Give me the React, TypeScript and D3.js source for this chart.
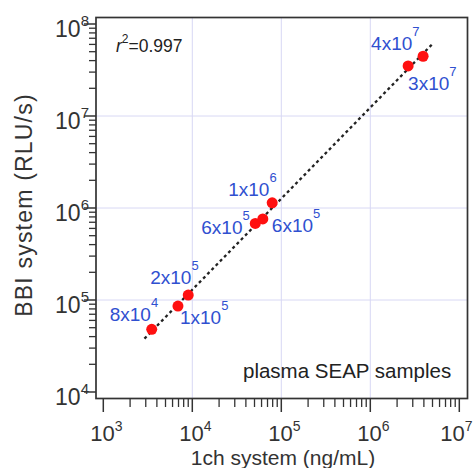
import React from 'react';
import * as d3 from 'd3';

// ---- data ----
const xValues = [3500, 6900, 9000, 51000, 62000, 79000, 2660000, 3920000]; // 1ch system (ng/mL)
const yValues = [48000, 86000, 113000, 680000, 760000, 1140000, 35000000, 44600000]; // BBI system (RLU/s)
const labelMantissa = ['8', '1', '2', '6', '6', '1', '3', '4'];
const labelExponent = ['4', '5', '5', '5', '5', '6', '7', '7'];
const fitSlope = 0.99;
const fitIntercept = 1.152; // log10
const fitRange = [2900, 4900000];
const xTickExps = [3, 4, 5, 6, 7];
const yTickExps = [4, 5, 6, 7, 8];
const rSquared = '0.997';
const sampleNote = 'plasma SEAP samples';
const xTitle = '1ch system (ng/mL)';
const yTitle = 'BBI system (RLU/s)';

// ---- layout ----
const W = 475;
const H = 468;
const frame = { left: 96, right: 467.5, top: 17.5, bottom: 398.5 };
const labelOffsets: [number, number][] = [
  [-42, -8], [2, 18], [-38, -11], [-54, 11], [9, 13], [-44, -7], [0, 24], [-52, -6],
];
const FONT = '"Liberation Sans", Arial, Helvetica, sans-serif';
const TEXT = '#333';
const BLUE = '#3050d0';

export default function App() {
  const x = d3.scaleLog().domain([1e3, 1e7]).range([103.3, 459.3]);
  const y = d3.scaleLog().domain([1e4, 1e8]).range([392, 24]);

  const minor = (exps: number[]) => {
    const out: number[] = [];
    for (let i = 0; i < exps.length - 1; i++) {
      for (let k = 2; k <= 9; k++) out.push(k * Math.pow(10, exps[i]));
    }
    return out;
  };
  const xMinor = minor(xTickExps);
  const yMinor = minor(yTickExps);
  const innerX = xTickExps.slice(1, -1).map((e) => Math.pow(10, e));
  const innerY = yTickExps.slice(1, -1).map((e) => Math.pow(10, e));

  const fitPts: [number, number][] = fitRange.map((v) => [v, Math.pow(10, fitIntercept + fitSlope * Math.log10(v))]);
  const fitLine = d3.line<[number, number]>().x((d) => x(d[0])).y((d) => y(d[1]))(fitPts) || '';

  const xLabelHalf = 16.5;
  const xLabelMax = 473 - xLabelHalf;

  return (
    <div style={{ position: 'absolute', left: 0, top: 0 }}>
      <svg width={W} height={H} style={{ display: 'block', background: '#fff' }} fontFamily={FONT}>
        {/* grid */}
        {innerX.map((v) => (
          <line key={'gx' + v} x1={x(v)} x2={x(v)} y1={frame.top} y2={frame.bottom} stroke="#d8d8f4" strokeWidth={1} />
        ))}
        {innerY.map((v) => (
          <line key={'gy' + v} x1={frame.left} x2={frame.right} y1={y(v)} y2={y(v)} stroke="#d8d8f4" strokeWidth={1} />
        ))}

        {/* fit line */}
        <path d={fitLine} stroke="#222" strokeWidth={2.3} strokeDasharray="3,3" fill="none" />

        {/* points */}
        {xValues.map((xv, i) => (
          <circle key={'p' + i} cx={x(xv)} cy={y(yValues[i])} r={5.5} fill="#ff1010" />
        ))}

        {/* point labels */}
        {xValues.map((xv, i) => (
          <text
            key={'l' + i}
            x={x(xv) + labelOffsets[i][0]}
            y={y(yValues[i]) + labelOffsets[i][1]}
            fontSize={19}
            fill={BLUE}
          >
            {labelMantissa[i] + 'x10'}
            <tspan fontSize={13} dy={-14}>{labelExponent[i]}</tspan>
          </text>
        ))}

        {/* frame */}
        <rect
          x={frame.left}
          y={frame.top}
          width={frame.right - frame.left}
          height={frame.bottom - frame.top}
          fill="none"
          stroke="#333"
          strokeWidth={1.7}
        />

        {/* x ticks */}
        {xTickExps.map((e) => (
          <line key={'xt' + e} x1={x(Math.pow(10, e))} x2={x(Math.pow(10, e))} y1={frame.bottom} y2={412} stroke="#333" strokeWidth={1.5} />
        ))}
        {xMinor.map((v) => (
          <line key={'xm' + v} x1={x(v)} x2={x(v)} y1={frame.bottom} y2={407} stroke="#333" strokeWidth={1.3} />
        ))}
        {xTickExps.map((e) => (
          <text
            key={'xl' + e}
            x={Math.min(x(Math.pow(10, e)) + 3, xLabelMax)}
            y={441}
            fontSize={22}
            fill={TEXT}
            textAnchor="middle"
          >
            10<tspan fontSize={14} dy={-10}>{e}</tspan>
          </text>
        ))}

        {/* y ticks */}
        {yTickExps.map((e) => (
          <line key={'yt' + e} x1={84} x2={frame.left} y1={y(Math.pow(10, e))} y2={y(Math.pow(10, e))} stroke="#333" strokeWidth={1.5} />
        ))}
        {yMinor.map((v) => (
          <line key={'ym' + v} x1={89} x2={frame.left} y1={y(v)} y2={y(v)} stroke="#333" strokeWidth={1.3} />
        ))}
        {yTickExps.map((e) => (
          <text key={'yl' + e} x={89} y={y(Math.pow(10, e)) + 13} fontSize={23} fill={TEXT} textAnchor="end">
            10<tspan fontSize={15} dy={-11}>{e}</tspan>
          </text>
        ))}

        {/* annotations */}
        <text x={116} y={52} fontSize={17.5} fill="#222">
          <tspan fontStyle="italic">r</tspan>
          <tspan fontSize={12} dy={-9}>2</tspan>
          <tspan dy={9}>{'=' + rSquared}</tspan>
        </text>
        <text x={243} y={378} fontSize={20.5} fill="#222">{sampleNote}</text>

        {/* axis titles */}
        <text x={283} y={465} fontSize={21} fill={TEXT} textAnchor="middle">{xTitle}</text>
        <text
          transform="translate(32,205) rotate(-90)"
          fontSize={23}
          letterSpacing={1.2}
          fill={TEXT}
          textAnchor="middle"
        >
          {yTitle}
        </text>
      </svg>
    </div>
  );
}
